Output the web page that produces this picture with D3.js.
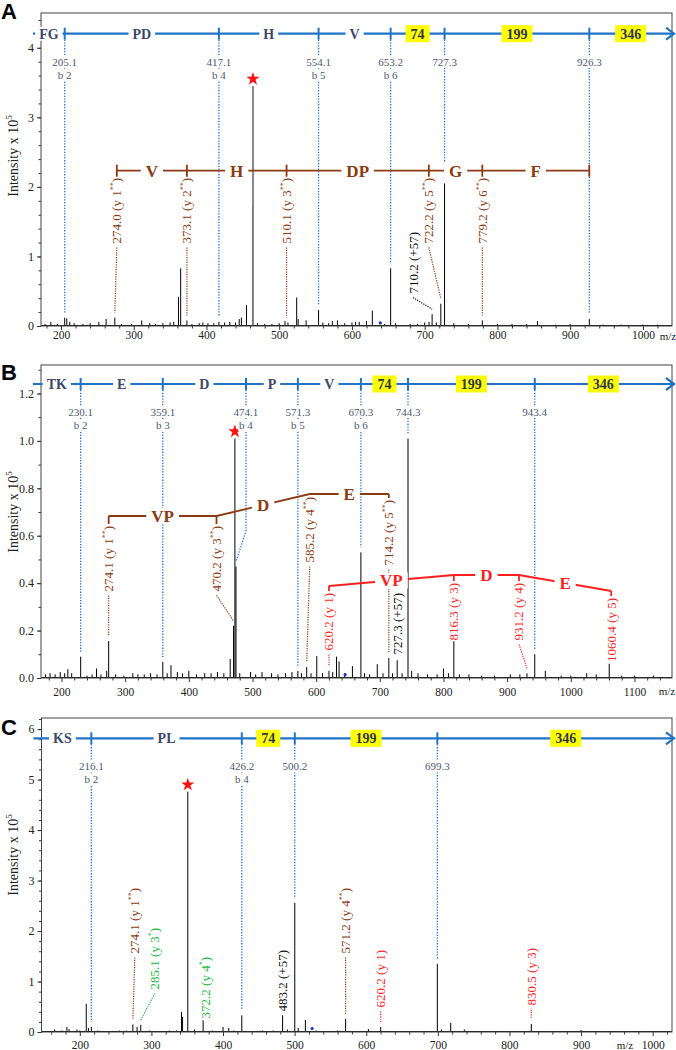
<!DOCTYPE html>
<html><head><meta charset="utf-8">
<script src="https://cdn.jsdelivr.net/npm/d3@7"></script>
<style>body{margin:0;background:#fff;} svg{display:block;}</style>
</head><body>
<svg id="chart" width="676" height="1050"></svg>
<script>
// ===================== DATA =====================
// Panel A spectrum [m/z, intensity x 1e5]
const peaksA = [[178,.03],[186,.06],[195,.03],[205.1,.12],[208,.11],[212,.06],[218,.04],[230,.03],[240,.04],[252,.06],[262,.1],[274.0,.12],[283,.03],[297,.03],[311,.08],[322,.04],[330,.03],[340,.04],[350,.05],[355,.06],[361.5,.42],[364.5,.83],[373.1,.08],[380,.03],[390,.04],[395,.05],[402,.04],[410,.04],[417.1,.06],[425,.05],[432,.06],[440,.05],[445,.1],[448,.12],[455,.3],[463.9,3.45],[470,.04],[480,.03],[490,.03],[500,.04],[508,.07],[512,.05],[524,.41],[526,.1],[537,.08],[554.1,.23],[560,.05],[568,.04],[573,.07],[580,.08],[590,.04],[600,.05],[605,.06],[610,.06],[620,.07],[628,.22],[645,.03],[653.2,.83],[660,.04],[680,.03],[690,.03],[700,.05],[706,.06],[710.2,.17],[716,.05],[722.2,.32],[727.3,2.05],[740,.04],[760,.03],[779.2,.08],[800,.03],[820,.03],[840,.03],[855,.07],[880,.02],[900,.03],[926.3,.1],[945,.02],[970,.02],[1000,.02],[1020,.02]];
const precA = [463.9, 3.45];
const dotA = [639, 0.03];
const xTicksA = [200,300,400,500,600,700,800,900,1000];
const yTicksA = [0,1,2,3,4];
const bIonsA = [[205.1,"b 2"],[417.1,"b 4"],[554.1,"b 5"],[653.2,"b 6"],[727.3,""],[926.3,""]];
const seqA = ["FG","PD","H","V","74","199","346"];
const annA = [[274.0,"y 1","**","y2"],[373.1,"y 2","**","y2"],[510.1,"y 3","**","y2"],[722.2,"y 5","**","y2"],[779.2,"y 6","**","y2"],[710.2,"+57","","cys"]];
const ladderA_mz = [274.0,373.1,510.1,722.2,779.2,926.3];
const ladderA_res = ["V","H","DP","G","F"];

// Panel B
const peaksB = [[175,.015],[182,.02],[190,.015],[198,.025],[205,.02],[210,.037],[216,.02],[230.1,.09],[240,.01],[248,.015],[255,.04],[262,.015],[271,.03],[274.1,.156],[285,.015],[298,.01],[312,.02],[320,.015],[330,.015],[340,.02],[350,.015],[359.1,.068],[366,.02],[372,.054],[382,.025],[390,.02],[400,.03],[412,.015],[425,.02],[435,.02],[445,.025],[455,.02],[465,.08],[470.2,.22],[472.4,1.01],[474.1,.47],[480,.02],[497,.025],[505,.015],[515,.025],[530,.02],[540,.015],[552,.02],[562,.025],[571.3,.03],[577,.02],[585.2,.046],[592,.02],[601,.092],[610,.02],[620.2,.03],[626,.025],[632,.09],[636,.07],[645,.02],[657,.05],[670.3,.53],[676,.02],[684,.015],[696,.058],[705,.02],[714.2,.085],[720,.02],[727.3,.075],[735,.02],[744.3,1.01],[750,.03],[760,.02],[775,.015],[790,.015],[800,.04],[808,.02],[816.3,.155],[825,.015],[840,.015],[860,.01],[880,.01],[905,.015],[920,.015],[931.2,.02],[943.4,.1],[960,.03],[985,.01],[1000,.01],[1025,.02],[1040,.015],[1060.4,.06],[1080,.01],[1100,.01],[1130,.01]];
const precB = [472.4, 1.01];
const dotB = [645.5, 0.01];
const xTicksB = [200,300,400,500,600,700,800,900,1000,1100];
const yTicksB = [0,0.2,0.4,0.6,0.8,1.0,1.2];
const bIonsB = [[230.1,"b 2"],[359.1,"b 3"],[474.1,"b 4"],[571.3,"b 5"],[670.3,"b 6"],[744.3,""],[943.4,""]];
const seqB = ["TK","E","D","P","V","74","199","346"];
const annB = [[274.1,"y 1","**","y2"],[470.2,"y 3","**","y2"],[585.2,"y 4","**","y2"],[714.2,"y 5","**","y2"],[620.2,"y 1","","y1"],[816.3,"y 3","","y1"],[931.2,"y 4","","y1"],[1060.4,"y 5","","y1"],[727.3,"+57","","cys"]];
const ladderB1_mz = [274.1,470.2,585.2,714.2];
const ladderB1_res = ["VP","D","E"];
const ladderB2_mz = [620.2,816.3,931.2,1060.4];
const ladderB2_res = ["VP","D","E"];

// Panel C
const peaksC = [[155,.02],[165,.05],[175,.03],[182,.1],[185,.06],[196,.05],[200,.03],[209,.56],[212,.08],[216.1,.1],[225,.03],[240,.02],[255,.03],[265,.03],[274.1,.15],[280,.1],[285.1,.14],[297,.03],[310,.02],[325,.03],[335,.03],[342,.4],[343.5,.3],[350.8,4.76],[360,.05],[372.2,.23],[385,.03],[400,.1],[408,.08],[415,.03],[426.2,.33],[440,.02],[455,.03],[470,.03],[483.2,.33],[490,.05],[500.2,2.56],[505,.08],[515,.24],[530,.03],[545,.02],[560,.03],[571.2,.26],[585,.02],[603,.06],[620.2,.1],[640,.02],[660,.02],[680,.02],[699.3,1.35],[705,.05],[718,.18],[737,.05],[760,.02],[780,.02],[800,.02],[815,.02],[830.5,.16],[850,.02],[870,.02],[900,.04],[930,.02],[960,.02],[990,.02]];
const precC = [350.8, 4.76];
const dotC = [524.4, 0.05];
const xTicksC = [200,300,400,500,600,700,800,900,1000];
const yTicksC = [0,1,2,3,4,5,6];
const bIonsC = [[216.1,"b 2"],[426.2,"b 4"],[500.2,""],[699.3,""]];
const seqC = ["KS","PL","74","199","346"];
const annC = [[274.1,"y 1","**","y2"],[285.1,"y 3","*","y1s"],[372.2,"y 4","*","y1s"],[483.2,"+57","","cys"],[571.2,"y 4","**","y2"],[620.2,"y 1","","y1"],[830.5,"y 3","","y1"]];

// ===================== STYLE / LAYOUT =====================
const COL = {seq:"#1f74c6", dot:"#1f6fe0", seqText:"#3b4868", bText:"#4d5870",
  y2:"#8b3a12", y1:"#ff1f1f", y1s:"#20b840", cys:"#111111", hl:"#ffff00"};
const SERIF = "'Liberation Serif','Times New Roman','DejaVu Serif',serif";
const SANS = "'Liberation Sans',Arial,sans-serif";

const panels = [
 {letter:"A", letterY:18.5, peaks:peaksA, prec:precA, precGray:true, dot:dotA,
  xDomain:[172.5,1040], yDomain:[0,4.5], left:41, right:672, top:13, bottom:326,
  xTicks:xTicksA, yTicks:yTicksA, yMinor:0.2, yFmt:d3.format("d"), xPad:1, mzPos:[668,336], titleY:156,
  seqY:33.7, seq:seqA, seqEndDx:0, bIons:bIonsA, bLay:{},
  ann:annA, annTop:[178,178,178,178,178,232], annDx:[2,0,0,-12,0,-19],
  ladders:[{mz:ladderA_mz, res:ladderA_res, kind:"y2", style:"tick", levels:ladderA_mz.map(()=>170.7)}]},
 {letter:"B", letterY:380, peaks:peaksB, prec:precB, precGray:false, dot:dotB,
  xDomain:[167.8,1159], yDomain:[0,1.32], left:41, right:672, top:365, bottom:678,
  xTicks:xTicksB, yTicks:yTicksB, yMinor:0.1, yFmt:d3.format(".1f"), xPad:6, mzPos:[667,691], titleY:512,
  seqY:384, seq:seqB, seqEndDx:0, bIons:bIonsB, bLay:{"474.1":{dx:10, bend:531}},
  ann:annB, annTop:[526,526,497,500,593,583,583,598,593], annDx:[0,-17,3,0,0,0,-8,2,0],
  ladders:[{mz:ladderB1_mz, res:ladderB1_res, kind:"y2", style:"bracket", levels:[516,516,494,494]},
           {mz:ladderB2_mz, res:ladderB2_res, kind:"y1", style:"bracket", levels:[586,575,575,591]}]},
 {letter:"C", letterY:735, peaks:peaksC, prec:precC, precGray:false, dot:dotC,
  xDomain:[146.5,1027], yDomain:[0,6.22], left:41.5, right:672, top:718, bottom:1032,
  xTicks:xTicksC, yTicks:yTicksC, yMinor:0.2, yFmt:d3.format("d"), xPad:5, mzPos:[625,1045], titleY:855,
  seqY:738.3, seq:seqC, seqEndDx:22, bIons:bIonsC, bLay:{},
  ann:annC, annTop:[888,928,957,950,888,950,948], annDx:[2,14,2,0,0,0,0],
  ladders:[]}
];

const svg = d3.select("#chart");

function boxLabel(g, cx, cy, txt, o){
  const t = g.append("text").attr("x",cx).attr("y",cy).attr("text-anchor","middle")
    .attr("dy","0.35em").attr("font-family",SERIF).attr("font-size",o.size)
    .attr("font-weight",o.weight||"normal").attr("fill",o.color).text(txt);
  const w = t.node().getComputedTextLength();
  g.insert("rect", () => t.node()).attr("x",cx-w/2-o.padX).attr("y",cy-o.h/2)
    .attr("width",w+2*o.padX).attr("height",o.h).attr("fill",o.fill);
  return t;
}

function drawPanel(P){
  const g = svg.append("g");
  const x = d3.scaleLinear().domain(P.xDomain).range([P.left,P.right]);
  const y = d3.scaleLinear().domain(P.yDomain).range([P.bottom,P.top]);
  const peakInt = mz => { let b=0,bd=2.5; for(const p of P.peaks){const d=Math.abs(p[0]-mz); if(d<bd){bd=d;b=p[1];}} return b; };

  // ---- peaks ----
  g.append("g").selectAll("line").data(P.peaks).join("line")
    .attr("x1",d=>x(d[0])).attr("x2",d=>x(d[0])).attr("y1",y(0)).attr("y2",d=>y(d[1]))
    .attr("stroke","#000").attr("stroke-width",1);
  if (P.precGray){
    g.append("line").attr("x1",x(P.prec[0])).attr("x2",x(P.prec[0]))
      .attr("y1",y(P.prec[1]/2)).attr("y2",y(P.prec[1])).attr("stroke","#8a8a8a").attr("stroke-width",2);
  }
  g.append("line").attr("x1",P.left).attr("x2",P.right).attr("y1",y(0)-0.5).attr("y2",y(0)-0.5)
    .attr("stroke","#111").attr("stroke-width",1.2);
  g.append("circle").attr("cx",x(P.dot[0])).attr("cy",y(P.dot[1])-1).attr("r",1.6).attr("fill","#1a2fd0");
  g.append("path").attr("d",d3.symbol().type(d3.symbolStar).size(55)())
    .attr("transform",`translate(${x(P.prec[0])},${y(P.prec[1])-7})`).attr("fill","#ff1010");

  // ---- axes ----
  const xMinor = d3.range(Math.ceil(P.xDomain[0]/20)*20, P.xDomain[1], 20).filter(v=>v%100!==0);
  const gxm = g.append("g").attr("transform",`translate(0,${P.bottom})`)
    .call(d3.axisBottom(x).tickValues(xMinor).tickSize(2.5).tickFormat(""));
  const gx = g.append("g").attr("transform",`translate(0,${P.bottom})`)
    .call(d3.axisBottom(x).tickValues(P.xTicks).tickSize(4).tickPadding(P.xPad).tickFormat(d3.format("d")));
  const yMinor = d3.range(0, P.yDomain[1]+1e-9, P.yMinor);
  const gym = g.append("g").attr("transform",`translate(${P.left},0)`)
    .call(d3.axisLeft(y).tickValues(yMinor).tickSize(2.5).tickFormat(""));
  const gy = g.append("g").attr("transform",`translate(${P.left},0)`)
    .call(d3.axisLeft(y).tickValues(P.yTicks).tickSize(4).tickPadding(3).tickFormat(P.yFmt));
  [gx,gxm,gy,gym].forEach(a=>{a.select(".domain").remove(); a.selectAll("line").attr("stroke","#333");});
  gx.selectAll("text").attr("font-family",SERIF).attr("font-size",11.5).attr("fill","#222");
  gy.selectAll("text").attr("font-family",SERIF).attr("font-size",12).attr("fill","#222");
  g.append("rect").attr("x",P.left).attr("y",P.top).attr("width",P.right-P.left).attr("height",P.bottom-P.top)
    .attr("fill","none").attr("stroke","#444").attr("stroke-width",1);
  g.append("text").attr("x",P.mzPos[0]).attr("y",P.mzPos[1]).attr("dy","0.35em").attr("text-anchor","middle")
    .attr("font-family",SERIF).attr("font-size",11).attr("fill","#222").text("m/z");
  const tt = g.append("text").attr("transform",`translate(18,${P.titleY}) rotate(-90)`).attr("text-anchor","middle")
    .attr("font-family",SERIF).attr("font-size",14).attr("fill","#222");
  tt.append("tspan").text("Intensity x 10");
  tt.append("tspan").attr("font-size",9).attr("dy",-6).text("5");
  g.append("text").attr("x",1).attr("y",P.letterY).attr("font-family",SANS).attr("font-weight","bold")
    .attr("font-size",22).attr("fill","#000").text(P.letter);

  // ---- b-ion dotted lines + top sequence ----
  const tickX = P.bIons.map(b => x(b[0]) + ((P.bLay[b[0]]||{}).dx||0));
  P.bIons.forEach((b,i)=>{
    const lay = P.bLay[b[0]]||{};
    const x0 = tickX[i], px = x(b[0]), yEnd = y(peakInt(b[0])) - 5;
    let pts = [[x0, P.seqY+6]];
    if (lay.bend){ pts.push([x0, lay.bend]); pts.push([px, yEnd]); }
    else pts.push([x0, yEnd]);
    g.append("path").attr("d", d3.line()(pts)).attr("fill","none").attr("stroke",COL.dot)
      .attr("stroke-width",1.3).attr("stroke-dasharray","1.3,1.5");
    boxLabel(g, x0, P.seqY+28, b[0].toFixed(1), {size:11, color:COL.bText, fill:"#fff", padX:1, h:12});
    if (b[1]) boxLabel(g, x0, P.seqY+41, b[1], {size:11, color:COL.bText, fill:"#fff", padX:1, h:12});
  });
  const x0s = P.left - 8, x1s = P.right + 2;
  g.append("line").attr("x1",x0s).attr("x2",x1s-1).attr("y1",P.seqY).attr("y2",P.seqY)
    .attr("stroke",COL.seq).attr("stroke-width",2.2);
  g.append("path").attr("d",`M${x1s-8},${P.seqY-6}L${x1s},${P.seqY}L${x1s-8},${P.seqY+6}`)
    .attr("fill","none").attr("stroke",COL.seq).attr("stroke-width",2.2);
  tickX.forEach(tx => g.append("line").attr("x1",tx).attr("x2",tx).attr("y1",P.seqY-6).attr("y2",P.seqY+6)
    .attr("stroke",COL.seq).attr("stroke-width",2));
  const bounds = [x0s, ...tickX, P.right + P.seqEndDx];
  P.seq.forEach((s,i)=>{
    const cx = (bounds[i]+bounds[i+1])/2;
    const glyco = /^\d+$/.test(s);
    boxLabel(g, cx, P.seqY, s, {size:14, weight:"bold", color: glyco?"#2f3550":COL.seqText,
      fill: glyco?COL.hl:"#fff", padX: glyco?5:4, h: glyco?17:14});
  });

  // ---- fragment-ion annotations ----
  const annX = {}, annT = {};
  P.ann.forEach((a,i)=>{
    const [mz, ion, sup, kind] = a;
    const col = COL[kind];
    const lx = x(mz) + P.annDx[i], top = P.annTop[i];
    annX[mz] = lx; annT[mz] = top;
    const t = g.append("text").attr("transform",`translate(${lx+4.5},${top}) rotate(-90)`)
      .attr("text-anchor","end").attr("font-family",SERIF).attr("font-size",13).attr("fill",col);
    t.append("tspan").text(`${mz.toFixed(1)} (${ion}`);
    if (sup){ t.append("tspan").attr("font-size",8).attr("dy",-5).text(sup); t.append("tspan").attr("dy",5).text(")"); }
    else t.append("tspan").text(")");
    const len = t.node().getComputedTextLength();
    const ys = top + len + 4, ye = y(peakInt(mz)) - 5;
    if (ye - ys > 4){
      g.append("line").attr("x1",lx).attr("y1",ys).attr("x2",x(mz)).attr("y2",ye)
        .attr("stroke",col).attr("stroke-width",1.2).attr("stroke-dasharray","1.2,1.2");
    }
  });

  // ---- ladders ----
  P.ladders.forEach(L=>{
    const col = COL[L.kind];
    const xs = L.mz.map(m => annX[m] !== undefined ? annX[m] : x(m));
    const pts = xs.map((xx,i)=>[xx, L.levels[i]]);
    g.append("path").attr("d", d3.line()(pts)).attr("fill","none").attr("stroke",col).attr("stroke-width",1.8);
    xs.forEach((xx,i)=>{
      if (L.style==="tick"){
        g.append("line").attr("x1",xx).attr("x2",xx).attr("y1",L.levels[i]-6).attr("y2",L.levels[i]+6)
          .attr("stroke",col).attr("stroke-width",1.8);
      } else if (annT[L.mz[i]] !== undefined){
        g.append("line").attr("x1",xx).attr("x2",xx).attr("y1",L.levels[i]).attr("y2",annT[L.mz[i]]-2)
          .attr("stroke",col).attr("stroke-width",1.8);
      }
    });
    L.res.forEach((r,i)=>{
      const cx = (pts[i][0]+pts[i+1][0])/2, cy = (pts[i][1]+pts[i+1][1])/2;
      boxLabel(g, cx, cy, r, {size:17, weight:"bold", color:col, fill:"#fff", padX:5, h:16});
    });
  });
}

panels.forEach(drawPanel);
</script>
</body></html>
